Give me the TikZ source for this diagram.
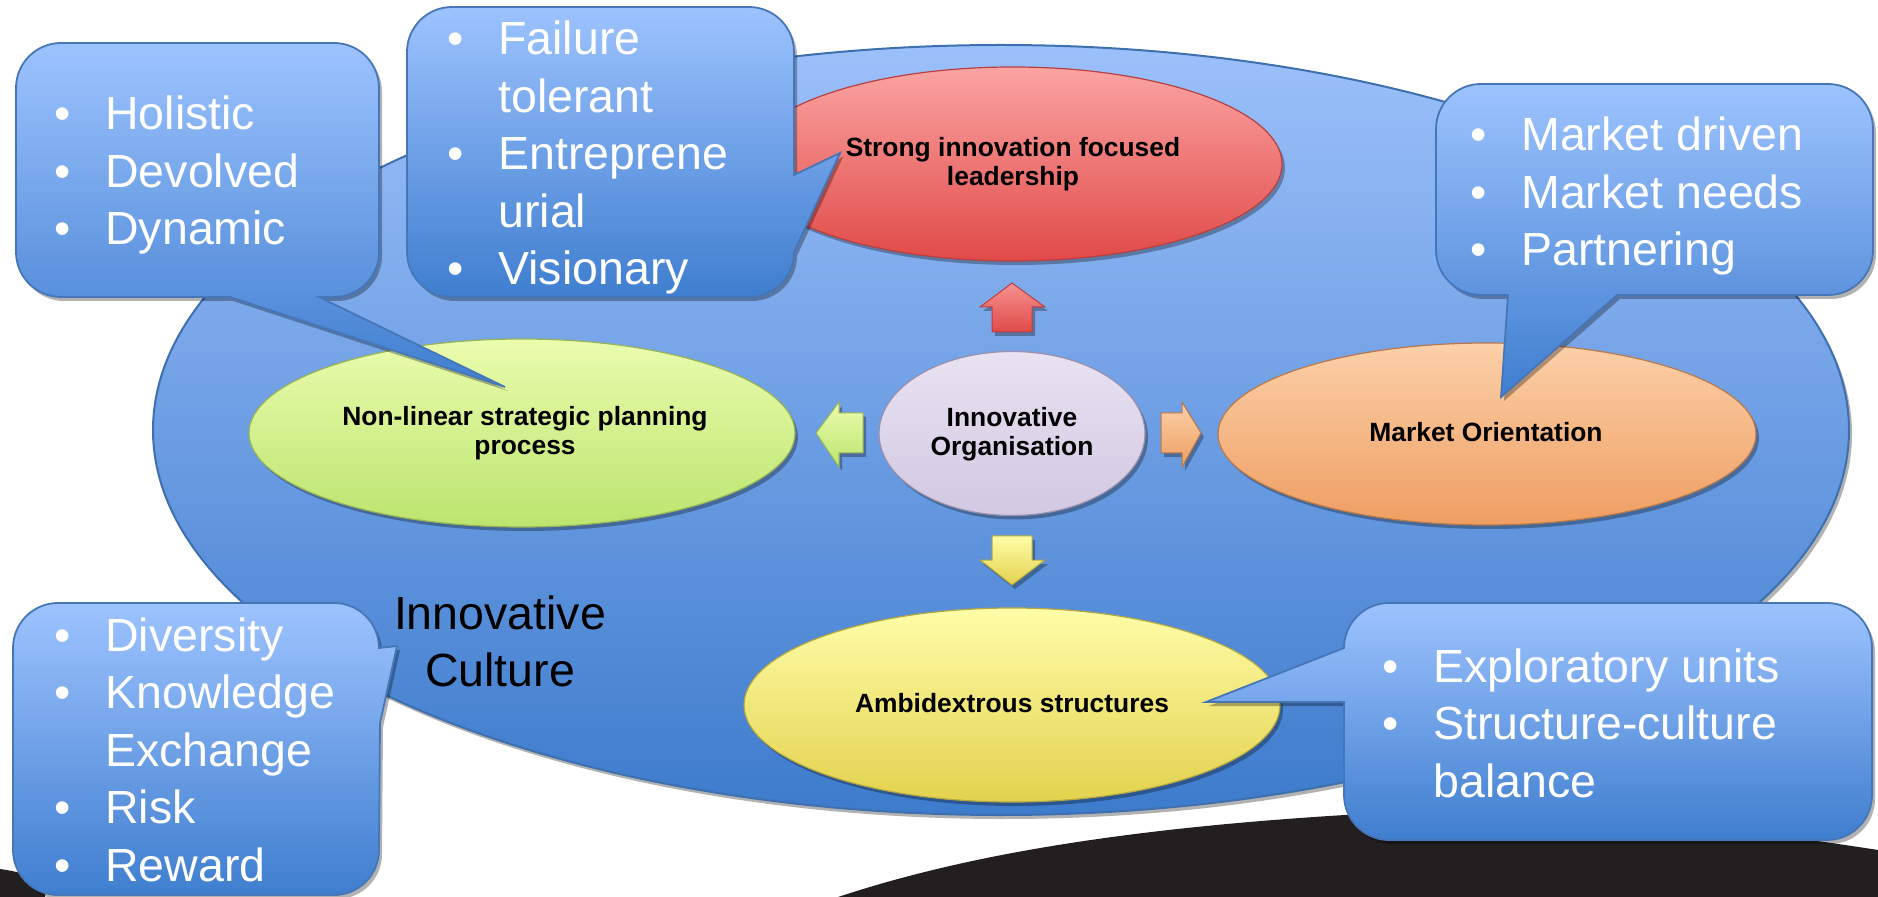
\documentclass[tikz,border=0pt]{standalone}
\usepackage{fontspec}
\setmainfont{Liberation Sans}
\usetikzlibrary{shapes.geometric,shadows}
\definecolor{cTop}{HTML}{9DC3FE}
\definecolor{cBot}{HTML}{3F7ECF}
\definecolor{cBorder}{HTML}{4676B8}
\definecolor{bigTop}{HTML}{9CC0FA}
\definecolor{bigBot}{HTML}{3D7BCC}
\definecolor{bigBorder}{HTML}{3E6FAF}
\definecolor{redTop}{HTML}{FBA4A2}
\definecolor{redBot}{HTML}{E04A48}
\definecolor{redBorder}{HTML}{B84040}
\definecolor{grnTop}{HTML}{EAFCAE}
\definecolor{grnBot}{HTML}{BCE46E}
\definecolor{grnBorder}{HTML}{98B456}
\definecolor{lavTop}{HTML}{E8E2F2}
\definecolor{lavBot}{HTML}{D2C8E2}
\definecolor{lavBorder}{HTML}{9890AC}
\definecolor{orgTop}{HTML}{FCD0A8}
\definecolor{orgBot}{HTML}{EE9E62}
\definecolor{orgBorder}{HTML}{B87A4C}
\definecolor{ylwTop}{HTML}{FFFDA8}
\definecolor{ylwBot}{HTML}{E2D24E}
\definecolor{ylwBorder}{HTML}{B4A640}
\definecolor{blk}{HTML}{231F20}
\newcommand{\cbul}{\makebox[25.5pt][l]{•}}
\begin{document}
\begin{tikzpicture}[x=0.5pt,y=0.5pt,
  softshadow/.style={drop shadow={shadow xshift=1.5pt,shadow yshift=-2pt,opacity=0.3,fill=black}},
  bubble/.style={draw=cBorder,line width=0.9pt,top color=cTop,bottom color=cBot,softshadow},
  oval/.style={ellipse,inner sep=0pt,outer sep=0pt,line width=0.6pt,softshadow},
  ovaltext/.style={inner sep=0pt,anchor=base,font=\bfseries\fontsize{13.2}{14.25}\selectfont,text=black},
  bullettext/.style={inner sep=0pt,anchor=base west,text=white,font=\fontsize{23.25}{28.75}\selectfont},
  blockarrow/.style={line width=0.5pt,softshadow}]

\useasboundingbox (0,0) rectangle (1878,-897);

% dark hill at the bottom
\fill[blk] (838,-897) .. controls (950,-860) and (1100,-830) .. (1345,-815)
  .. controls (1550,-805) and (1750,-830) .. (1878,-850) -- (1878,-897) -- cycle;
\fill[blk] (0,-869) .. controls (15,-871) and (30,-875) .. (45,-880) -- (45,-897) -- (0,-897) -- cycle;

% big ellipse
\node[oval,draw=bigBorder,line width=1pt,top color=bigTop,bottom color=bigBot,
  minimum width=848pt,minimum height=385pt] (culture) at (1001,-430) {};

% inner ellipses
\node[oval,draw=redBorder,top color=redTop,bottom color=redBot,
  minimum width=269pt,minimum height=97pt] (lead) at (1013,-164) {};
\node[oval,draw=grnBorder,top color=grnTop,bottom color=grnBot,
  minimum width=273pt,minimum height=94pt] (plan) at (522,-433) {};
\node[oval,draw=lavBorder,top color=lavTop,bottom color=lavBot,
  minimum width=133pt,minimum height=82pt] (org) at (1012,-433.5) {};
\node[oval,draw=orgBorder,top color=orgTop,bottom color=orgBot,
  minimum width=269pt,minimum height=91pt] (market) at (1487,-434) {};
\node[oval,draw=ylwBorder,top color=ylwTop,bottom color=ylwBot,
  minimum width=268pt,minimum height=97pt] (ambi) at (1012,-705) {};

% block arrows
\path[blockarrow,draw=redBorder,top color=redTop!80!redBot,bottom color=redBot]
  (992,-332) -- (992,-307) -- (980,-307) -- (1012,-283) -- (1045,-307) -- (1032,-307) -- (1032,-332) -- cycle;
\path[blockarrow,draw=ylwBorder,top color=ylwTop,bottom color=ylwBot]
  (992,-536) -- (1032,-536) -- (1032,-560) -- (1045,-560) -- (1012,-585) -- (980,-560) -- (992,-560) -- cycle;
\path[blockarrow,draw=grnBorder,top color=grnTop,bottom color=grnBot]
  (863,-413) -- (839,-413) -- (839,-402) -- (816,-433) -- (839,-467) -- (839,-453) -- (863,-453) -- cycle;
\path[blockarrow,draw=orgBorder,top color=orgTop,bottom color=orgBot]
  (1161,-413) -- (1182,-413) -- (1182,-402) -- (1201,-433) -- (1182,-467) -- (1182,-453) -- (1161,-453) -- cycle;

% ellipse texts
\node[ovaltext] (leadtxt) at (1013,-157) {\begin{tabular}[t]{@{}c@{}}Strong innovation focused\\leadership\end{tabular}};
\node[ovaltext] (plantxt) at (525,-426) {\begin{tabular}[t]{@{}c@{}}Non-linear strategic planning\\process\end{tabular}};
\node[ovaltext] (orgtxt) at (1012,-427) {\begin{tabular}[t]{@{}c@{}}Innovative\\Organisation\end{tabular}};
\node[ovaltext] (markettxt) at (1486,-442) {Market Orientation};
\node[ovaltext] (ambitxt) at (1012,-712) {Ambidextrous structures};

\node[inner sep=0pt,anchor=base,text=black,font=\fontsize{23.25}{28.5}\selectfont] (culturetxt) at (500,-629)
  {\begin{tabular}[t]{@{}c@{}}Innovative\\Culture\end{tabular}};

% callouts
\path[bubble] (61,-43) -- (334,-43) arc[start angle=90,end angle=0,radius=45]
  -- (379,-252) arc[start angle=0,end angle=-90,radius=45]
  -- (319,-297) -- (505,-387) -- (230,-297)
  -- (61,-297) arc[start angle=-90,end angle=-180,radius=45]
  -- (16,-88) arc[start angle=180,end angle=90,radius=45] -- cycle;

\path[bubble] (452,-7) -- (749,-7) arc[start angle=90,end angle=0,radius=45]
  -- (794,-175) -- (840,-153) -- (794,-252) arc[start angle=0,end angle=-90,radius=45]
  -- (452,-297) arc[start angle=-90,end angle=-180,radius=45]
  -- (407,-52) arc[start angle=180,end angle=90,radius=45] -- cycle;

\path[bubble] (1481,-84) -- (1828,-84) arc[start angle=90,end angle=0,radius=45]
  -- (1873,-250) arc[start angle=0,end angle=-90,radius=45]
  -- (1617,-295) -- (1501,-397) -- (1508,-295)
  -- (1481,-295) arc[start angle=-90,end angle=-180,radius=45]
  -- (1436,-129) arc[start angle=180,end angle=90,radius=45] -- cycle;

\path[bubble] (58,-603) -- (334,-603) arc[start angle=90,end angle=0,radius=45]
  -- (397,-646) -- (380,-723) -- (379,-850) arc[start angle=0,end angle=-90,radius=45]
  -- (58,-895) arc[start angle=-90,end angle=-180,radius=45]
  -- (13,-648) arc[start angle=180,end angle=90,radius=45] -- cycle;

\path[bubble] (1389,-603) -- (1827,-603) arc[start angle=90,end angle=0,radius=45]
  -- (1872,-795) arc[start angle=0,end angle=-90,radius=45]
  -- (1389,-840) arc[start angle=-90,end angle=-180,radius=45]
  -- (1344,-702) -- (1206,-702) -- (1344,-648) arc[start angle=180,end angle=90,radius=45] -- cycle;

% callout texts
\node[bullettext] (holtxt) at (54,-130) {\begin{tabular}[t]{@{}l@{}l@{}}
  \cbul&Holistic\\ \cbul&Devolved\\ \cbul&Dynamic\end{tabular}};
\node[bullettext] (failtxt) at (447,-55) {\begin{tabular}[t]{@{}l@{}l@{}}
  \cbul&Failure\\ &tolerant\\ \cbul&Entreprene\\ &urial\\ \cbul&Visionary\end{tabular}};
\node[bullettext] (mkttxt) at (1470,-151) {\begin{tabular}[t]{@{}l@{}l@{}}
  \cbul&Market driven\\ \cbul&Market needs\\ \cbul&Partnering\end{tabular}};
\node[bullettext] (divtxt) at (54,-651) {\begin{tabular}[t]{@{}l@{}l@{}}
  \cbul&Diversity\\ \cbul&Knowledge\\ &Exchange\\ \cbul&Risk\\ \cbul&Reward\end{tabular}};
\node[bullettext] (exptxt) at (1382,-682) {\begin{tabular}[t]{@{}l@{}l@{}}
  \cbul&Exploratory units\\ \cbul&Structure-culture\\ &balance\end{tabular}};
\end{tikzpicture}
\end{document}
